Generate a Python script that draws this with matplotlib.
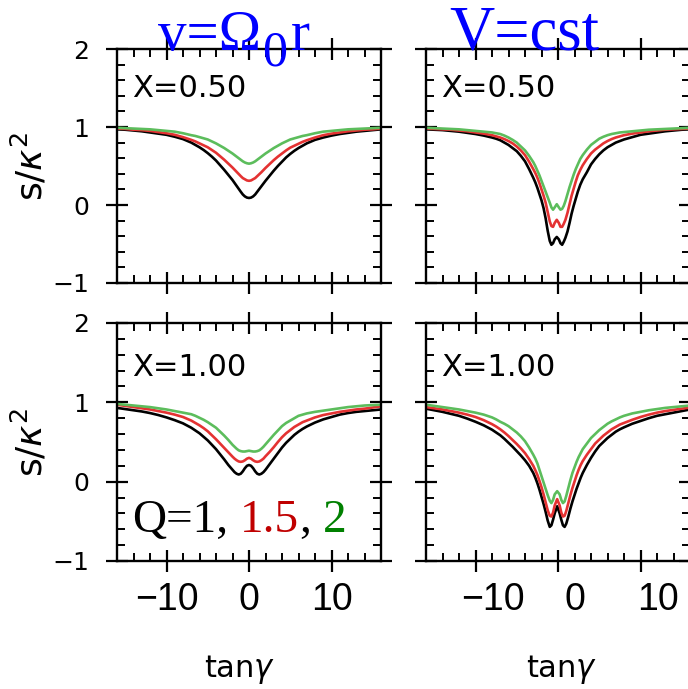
import matplotlib
matplotlib.use("Agg")
import matplotlib.pyplot as plt
from matplotlib.ticker import MultipleLocator
from matplotlib.transforms import ScaledTranslation

plt.rcParams.update({
    "font.family": "DejaVu Sans",
    "axes.linewidth": 1.7,
    "mathtext.fontset": "dejavusans",
})

# ---- data: s/kappa^2 vs tan(gamma), Q = 1, 1.5, 2 ----
# top-left: v = Omega_0 r, X = 0.50
x_tl = [-16, -15, -14, -13, -12, -11, -10, -9, -8, -7,
        -6.5, -6, -5.5, -5, -4.5, -4, -3.5, -3, -2.5, -2, -1.5, -1,
        -0.75, -0.5, -0.25, 0, 0.25, 0.5, 0.75,
        1, 1.5, 2, 2.5, 3, 3.5, 4, 4.5, 5, 5.5, 6, 6.5,
        7, 8, 9, 10, 11, 12, 13, 14, 15, 16]
tl_q1 = [.97, .965, .955, .945, .93, .915, .90, .875, .845, .80,
         .77, .74, .705, .665, .62, .57, .51, .45, .385, .32, .245, .17,
         .135, .11, .095, .09, .095, .11, .135,
         .17, .24, .31, .375, .44, .50, .555, .61, .655, .695, .73, .76,
         .79, .835, .865, .89, .91, .925, .94, .95, .96, .97]
tl_q15 = [.98, .975, .965, .96, .95, .935, .92, .90, .87, .835,
          .815, .79, .765, .74, .705, .67, .625, .58, .53, .48, .425, .37,
          .345, .33, .315, .31, .315, .33, .345,
          .37, .42, .475, .525, .575, .62, .66, .70, .735, .76, .785, .81,
          .83, .865, .895, .915, .93, .945, .955, .965, .97, .98]
tl_q2 = [.99, .985, .98, .975, .97, .96, .95, .94, .92, .895,
         .885, .87, .855, .84, .815, .79, .76, .73, .695, .66, .62, .58,
         .56, .545, .535, .53, .535, .545, .56,
         .58, .62, .66, .695, .73, .76, .79, .815, .84, .855, .87, .885,
         .895, .92, .94, .95, .96, .97, .975, .98, .985, .99]

# top-right: V = cst, X = 0.50
x_tr = [-16, -15, -14, -13, -12, -11, -10, -9,
        -8, -7.5, -7, -6.5, -6, -5.5, -5, -4.5, -4, -3.5, -3,
        -2.75, -2.5, -2.25, -2, -1.75, -1.5, -1.25, -1,
        -0.8, -0.6, -0.4, -0.15, 0.1, 0.3, 0.5, 0.7, 0.9,
        1.15, 1.4, 1.65, 1.9, 2.15, 2.4, 2.7, 3,
        3.5, 4, 4.5, 5, 5.5, 6, 6.5, 7, 7.5, 8,
        9, 10, 11, 12, 13, 14, 15, 16]
tr_q1 = [.97, .965, .96, .95, .94, .925, .91, .89,
         .865, .85, .83, .80, .77, .73, .69, .63, .56, .46, .35,
         .29, .22, .14, .06, -.04, -.17, -.33, -.46,
         -.51, -.49, -.44, -.41, -.44, -.49, -.51, -.47, -.42,
         -.34, -.23, -.11, -.01, .08, .17, .26, .33,
         .42, .52, .59, .65, .70, .74, .77, .80, .82, .84,
         .87, .90, .915, .93, .945, .955, .965, .97]
tr_q15 = [.98, .975, .97, .965, .955, .945, .93, .915,
          .895, .88, .865, .845, .82, .79, .75, .70, .64, .555, .46,
          .41, .35, .28, .20, .12, .03, -.09, -.21,
          -.27, -.28, -.23, -.19, -.23, -.28, -.28, -.24, -.19,
          -.10, .01, .12, .21, .30, .38, .45, .51,
          .59, .66, .71, .75, .79, .82, .845, .865, .88, .895,
          .915, .93, .945, .955, .965, .97, .975, .98]
tr_q2 = [.99, .985, .98, .975, .97, .96, .95, .94,
         .93, .92, .91, .89, .865, .835, .80, .75, .70, .63, .55,
         .50, .44, .38, .31, .24, .17, .10, .03,
         -.03, -.06, -.03, .01, -.03, -.06, -.05, -.01, .05,
         .14, .23, .31, .39, .46, .52, .59, .64,
         .71, .77, .81, .85, .875, .895, .91, .92, .93, .935,
         .945, .955, .965, .97, .975, .98, .985, .99]

# bottom-left: v = Omega_0 r, X = 1.00
x_bl = [-16, -15, -14, -13, -12, -11, -10, -9, -8, -7,
        -6.5, -6, -5.5, -5, -4.5, -4, -3.5, -3, -2.5, -2,
        -1.75, -1.5, -1.25, -1, -0.75, -0.5, -0.25, 0,
        0.25, 0.5, 0.75, 1, 1.25, 1.5, 1.75,
        2, 2.5, 3, 3.5, 4, 4.5, 5, 5.5, 6, 6.5, 7,
        8, 9, 10, 11, 12, 13, 14, 15, 16]
bl_q1 = [.93, .915, .90, .885, .865, .84, .81, .775, .735, .68,
         .645, .61, .565, .52, .465, .41, .345, .28, .21, .15,
         .12, .10, .09, .10, .13, .17, .20, .21,
         .20, .17, .13, .10, .09, .10, .12,
         .15, .22, .29, .36, .43, .49, .54, .59, .63, .665, .695,
         .745, .785, .815, .845, .865, .88, .89, .90, .91]
bl_q15 = [.97, .955, .94, .925, .91, .89, .87, .845, .815, .77,
          .74, .71, .675, .635, .585, .535, .48, .425, .37, .315,
          .29, .27, .255, .25, .255, .27, .29, .30,
          .29, .27, .255, .25, .255, .27, .29,
          .32, .375, .435, .50, .56, .61, .65, .69, .72, .75, .77,
          .81, .84, .86, .88, .895, .91, .92, .935, .95]
bl_q2 = [.98, .97, .96, .95, .94, .925, .91, .89, .87, .85,
         .83, .805, .78, .75, .715, .68, .63, .58, .525, .465,
         .44, .415, .395, .385, .38, .38, .385, .39,
         .385, .38, .38, .385, .395, .415, .44,
         .47, .53, .59, .645, .70, .74, .77, .80, .83, .845, .86,
         .88, .895, .91, .925, .94, .95, .96, .965, .97]

# bottom-right: V = cst, X = 1.00
x_br = [-16, -15, -14, -13, -12, -11, -10, -9,
        -8, -7.5, -7, -6.5, -6, -5.5, -5, -4.5, -4, -3.5, -3,
        -2.75, -2.5, -2.25, -2, -1.75, -1.5, -1.25, -1,
        -0.8, -0.6, -0.4, -0.1, 0.2, 0.4, 0.6, 0.8, 1.0,
        1.25, 1.5, 1.75, 2, 2.25, 2.5, 2.75, 3,
        3.5, 4, 4.5, 5, 5.5, 6, 6.5, 7, 7.5, 8,
        9, 10, 11, 12, 13, 14, 15, 16]
br_q1 = [.92, .90, .88, .855, .83, .795, .755, .71,
         .655, .62, .585, .54, .49, .44, .385, .33, .27, .20, .11,
         .05, -.02, -.10, -.19, -.28, -.38, -.49, -.57,
         -.55, -.48, -.40, -.31, -.40, -.48, -.55, -.57, -.53,
         -.44, -.34, -.25, -.17, -.09, -.02, .05, .11,
         .21, .30, .38, .45, .50, .55, .59, .63, .66, .685,
         .73, .765, .80, .83, .85, .87, .89, .91]
br_q15 = [.94, .925, .91, .89, .87, .845, .815, .775,
          .725, .695, .66, .62, .575, .525, .475, .42, .36, .285, .20,
          .145, .085, .01, -.07, -.16, -.26, -.36, -.43,
          -.44, -.39, -.30, -.22, -.30, -.39, -.44, -.43, -.37,
          -.27, -.17, -.08, .00, .08, .15, .21, .26,
          .34, .41, .48, .53, .58, .62, .66, .69, .72, .74,
          .78, .815, .845, .87, .89, .905, .92, .935]
br_q2 = [.97, .955, .94, .925, .91, .89, .87, .845,
         .81, .785, .755, .73, .70, .66, .62, .57, .51, .43, .34,
         .29, .23, .15, .07, -.01, -.09, -.17, -.24,
         -.27, -.23, -.16, -.12, -.16, -.23, -.27, -.25, -.18,
         -.08, .02, .11, .18, .25, .31, .36, .41,
         .48, .55, .60, .65, .69, .73, .76, .785, .81, .83,
         .86, .88, .90, .915, .93, .94, .95, .96]

panel_labels = ["X=0.50", "X=0.50", "X=1.00", "X=1.00"]
xticks = [-10, 0, 10]
yticks = [-1, 0, 1, 2]
line_colors = ["black", "#e43232", "#5cbd5c"]

W, H = 688, 689
fig = plt.figure(figsize=(W / 100, H / 100), dpi=100)


def px_axes(x0, top, w, h):
    return fig.add_axes([x0 / W, 1 - (top + h) / H, w / W, h / H])


ax_tl = px_axes(117, 49, 264, 234)
ax_tr = px_axes(426, 49, 264, 234)
ax_bl = px_axes(117, 323, 264, 238)
ax_br = px_axes(426, 323, 264, 238)

panels = [
    (ax_tl, x_tl, [tl_q1, tl_q15, tl_q2]),
    (ax_tr, x_tr, [tr_q1, tr_q15, tr_q2]),
    (ax_bl, x_bl, [bl_q1, bl_q15, bl_q2]),
    (ax_br, x_br, [br_q1, br_q15, br_q2]),
]

for i, (ax, xs, curves) in enumerate(panels):
    for ys, c in zip(curves, line_colors):
        ax.plot(xs, ys, color=c, lw=1.9, solid_joinstyle="round")
    ax.set_xlim(-16, 16)
    ax.set_ylim(-1, 2)
    ax.set_xticks(xticks)
    ax.set_yticks(yticks)
    ax.xaxis.set_minor_locator(MultipleLocator(2))
    ax.yaxis.set_minor_locator(MultipleLocator(0.2))
    ax.tick_params(which="both", top=True, right=True)
    ax.tick_params(which="major", direction="inout", length=16, width=1.6)
    ax.tick_params(which="minor", direction="in", length=6, width=1.4)
    ax.tick_params(axis="y", labelsize=18, pad=12)
    ax.tick_params(axis="x", labelsize=27, pad=7)
    top = 25 if i < 2 else 30
    ax.annotate(panel_labels[i], xy=(0, 1), xycoords="axes fraction",
                xytext=(15, -top), textcoords="offset pixels",
                ha="left", va="top", fontsize=22)
    if i < 2:
        ax.tick_params(axis="x", labelbottom=False)
    else:
        for lbl in ax.get_xticklabels():
            lbl.set_fontfamily("Liberation Sans")
    if i % 2 == 1:
        ax.tick_params(axis="y", labelleft=False)

# the right-hand tick labels sit a little to the right of their ticks
shift = ScaledTranslation(17 / 100, 0, fig.dpi_scale_trans)
for tick in ax_br.xaxis.get_major_ticks():
    tick.label1.set_transform(tick.label1.get_transform() + shift)

# axis labels
for yc in (166, 442):
    fig.text(30 / W, 1 - yc / H, r"s/$\kappa^2$", rotation=90,
             ha="center", va="center", fontsize=26)
for xc in (240, 562):
    fig.text(xc / W, 1 - 670 / H, r"tan$\gamma$", ha="center", va="center",
             fontsize=22)


def chain(ax, first, parts, **kw):
    prev = first
    for s, c, dx in parts:
        prev = ax.annotate(s, xy=(1, 0), xycoords=prev, xytext=(dx, 0),
                           textcoords="offset pixels", va="bottom",
                           ha="left", color=c, **kw)
    return prev


# column titles
serif = "Liberation Serif"
t = fig.text(158 / W, 1 - 50 / H, "v=Ω", color="blue", fontsize=41,
             family=serif, va="baseline")
sub = ax_tl.annotate("0", xy=(1, 0), xycoords=t, xytext=(1, -15),
                     textcoords="offset pixels", va="bottom",
                     color="blue", fontsize=36, family=serif, zorder=10)
ax_tl.annotate("r", xy=(1, 0), xycoords=(sub, t), xytext=(4, 0),
               textcoords="offset pixels", va="bottom",
               color="blue", fontsize=41, family=serif, zorder=10)
fig.text(449 / W, 1 - 50 / H, "V=cst", color="blue", fontsize=45,
         family=serif, va="baseline")

# Q legend written in the lower-left panel
q0 = ax_bl.annotate("Q=1,", xy=(0, 0), xycoords="axes fraction",
                    xytext=(15, 29), textcoords="offset pixels",
                    va="baseline", ha="left", fontsize=34, family=serif)
chain(ax_bl, q0, [("1.5", "#c00000", 12), (",", "black", 0),
                  ("2", "#008000", 12)],
      fontsize=34, family=serif)

fig.savefig("out.png", dpi=100)
